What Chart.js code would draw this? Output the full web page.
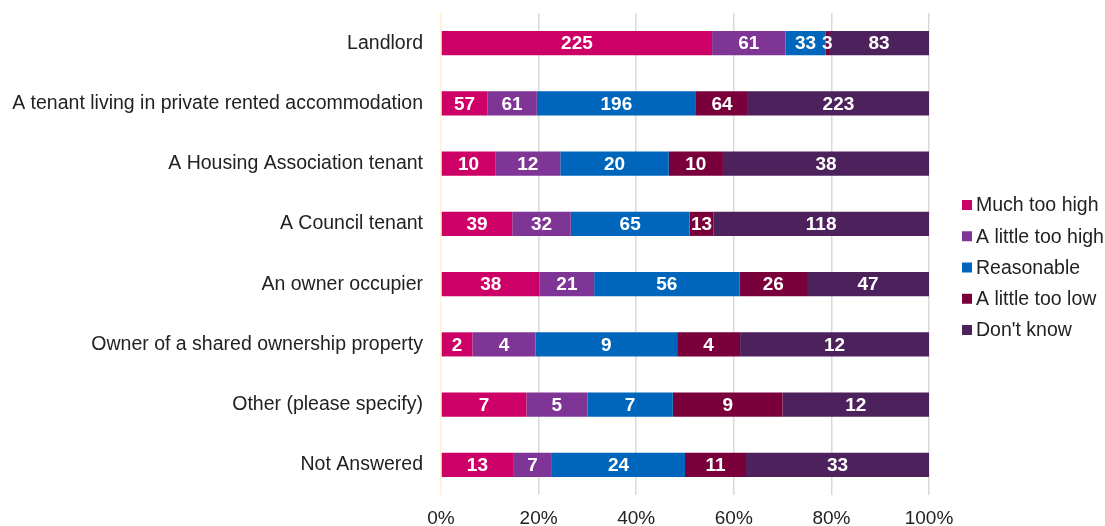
<!DOCTYPE html>
<html>
<head>
<meta charset="utf-8">
<title>Views on rent levels by respondent type</title>
<script src="https://cdn.jsdelivr.net/npm/chart.js@4.4.1/dist/chart.umd.min.js"></script>
<style>
  html, body { margin: 0; padding: 0; background: #fff; }
  #wrap { width: 1105px; height: 526px; position: relative; }
</style>
</head>
<body>
<div id="wrap"><canvas id="rentChart"></canvas></div>
<script>
const categories = [
  'Landlord',
  'A tenant living in private rented accommodation',
  'A Housing Association tenant',
  'A Council tenant',
  'An owner occupier',
  'Owner of a shared ownership property',
  'Other (please specify)',
  'Not Answered'
];

// number of responses per answer, one entry per category above
const muchTooHigh    = [225, 57, 10, 39, 38, 2, 7, 13];
const littleTooHigh  = [61, 61, 12, 32, 21, 4, 5, 7];
const reasonable     = [33, 196, 20, 65, 56, 9, 7, 24];
const littleTooLow   = [3, 64, 10, 13, 26, 4, 9, 11];
const dontKnow       = [83, 223, 38, 118, 47, 12, 12, 33];

const xTicks = [0, 20, 40, 60, 80, 100];

const seriesNames = ['Much too high', 'A little too high', 'Reasonable', 'A little too low', "Don't know"];
const seriesCounts = [muchTooHigh, littleTooHigh, reasonable, littleTooLow, dontKnow];
const seriesColors = ['#CC0066', '#7E3596', '#0066BB', '#7A003C', '#4D215C'];

const rowTotals = categories.map((_, i) => seriesCounts.reduce((s, arr) => s + arr[i], 0));

const datasets = seriesNames.map((name, k) => ({
  label: name,
  data: seriesCounts[k].map((v, i) => v / rowTotals[i] * 100),
  counts: seriesCounts[k],
  backgroundColor: seriesColors[k],
  borderWidth: 0,
  categoryPercentage: 0.4,
  barPercentage: 1
}));

const FONT = "'Liberation Sans', Arial, sans-serif";
const TEXT = '#222222';

// writes the response count in the middle of each segment
const segmentLabels = {
  id: 'segmentLabels',
  afterDatasetsDraw(chart) {
    const ctx = chart.ctx;
    ctx.save();
    ctx.font = 'bold 19px ' + FONT;
    ctx.fillStyle = '#ffffff';
    ctx.textAlign = 'center';
    ctx.textBaseline = 'middle';
    chart.data.datasets.forEach((ds, di) => {
      const meta = chart.getDatasetMeta(di);
      meta.data.forEach((bar, i) => {
        const p = bar.getCenterPoint();
        ctx.fillText(String(ds.counts[i]), p.x, p.y + 1);
      });
    });
    ctx.restore();
  }
};

// legend column to the right of the plot: small square + series name
const sideLegend = {
  id: 'sideLegend',
  afterDraw(chart) {
    const ctx = chart.ctx;
    const area = chart.chartArea;
    const rowGap = 31.25;
    const sets = chart.data.datasets;
    const x = area.right + 33;
    const mid = (area.top + area.bottom) / 2 + 13.5;
    const y0 = mid - rowGap * (sets.length - 1) / 2;
    ctx.save();
    ctx.font = '19.5px ' + FONT;
    ctx.textAlign = 'left';
    ctx.textBaseline = 'middle';
    sets.forEach((ds, i) => {
      const y = y0 + i * rowGap;
      ctx.fillStyle = ds.backgroundColor;
      ctx.fillRect(x, y - 5, 10, 10);
      ctx.fillStyle = TEXT;
      ctx.fillText(ds.label, x + 14, y + 1);
    });
    ctx.restore();
  }
};

new Chart(document.getElementById('rentChart'), {
  type: 'bar',
  data: { labels: categories, datasets: datasets },
  options: {
    indexAxis: 'y',
    responsive: true,
    maintainAspectRatio: false,
    animation: false,
    layout: { padding: { left: 0, right: 176, top: 13, bottom: 0 } },
    plugins: {
      tooltip: { enabled: false },
      legend: { display: false }
    },
    scales: {
      x: {
        stacked: true,
        min: 0,
        max: 100,
        afterBuildTicks(scale) {
          scale.ticks = xTicks.map(v => ({ value: v }));
        },
        // tick labels sit in a short strip under the plot and run to the bottom edge
        afterFit(scale) { scale.height = 31; },
        grid: {
          drawTicks: false,
          color: ctx => ctx.index === 0 ? '#FFF2CC' : '#D9D9D9',
          lineWidth: 1.5
        },
        border: { display: false },
        ticks: {
          padding: 12,
          color: TEXT,
          font: { family: FONT, size: 19 },
          callback: v => v + '%'
        }
      },
      y: {
        stacked: true,
        afterFit(scale) {
          scale.width = 441;
          scale.paddingTop = 0;
          scale.paddingBottom = 0;
        },
        grid: { display: false, drawTicks: false },
        border: { display: false },
        ticks: {
          padding: 18,
          color: TEXT,
          font: { family: FONT, size: 19.5 }
        }
      }
    }
  },
  plugins: [segmentLabels, sideLegend]
});
</script>
</body>
</html>
